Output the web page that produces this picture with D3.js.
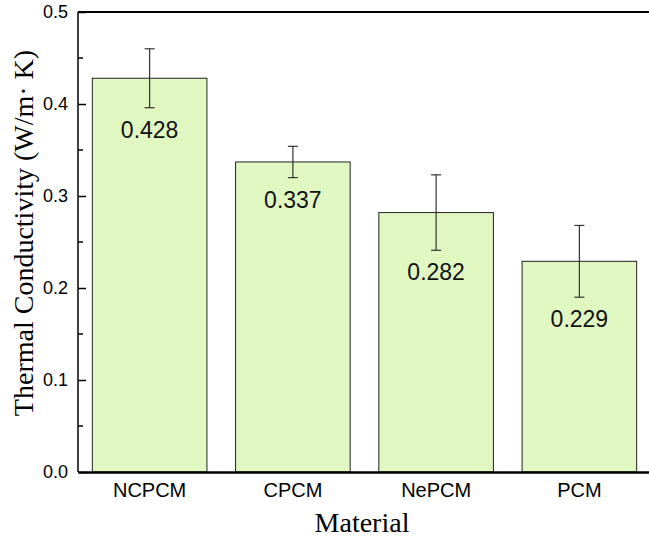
<!DOCTYPE html>
<html>
<head>
<meta charset="utf-8">
<script src="https://cdn.jsdelivr.net/npm/d3@7"></script>
<style>
  body { margin: 0; background: #fff; }
  svg { display: block; }
</style>
</head>
<body>
<svg width="649" height="545"></svg>
<script>
const categories = ['NCPCM', 'CPCM', 'NePCM', 'PCM'];
const values = [0.428, 0.337, 0.282, 0.229];
const errors = [0.032, 0.017, 0.041, 0.039];
const yTicks = [0, 0.1, 0.2, 0.3, 0.4, 0.5];
const yMinor = [0.05, 0.15, 0.25, 0.35, 0.45];

const data = categories.map((c, i) => ({ name: c, value: values[i], err: errors[i] }));

const svg = d3.select('svg');
const m = { left: 78, right: 651, top: 12, bottom: 472 };

const x = d3.scaleBand()
  .domain(categories)
  .range([m.left, m.right])
  .paddingInner(0.2)
  .paddingOuter(0.1);

const y = d3.scaleLinear()
  .domain([0, 0.5])
  .range([m.bottom, m.top]);

// bars
svg.append('g')
  .selectAll('rect')
  .data(data)
  .join('rect')
    .attr('x', d => x(d.name))
    .attr('y', d => y(d.value))
    .attr('width', x.bandwidth())
    .attr('height', d => y(0) - y(d.value))
    .attr('fill', '#e0f7c2')
    .attr('stroke', '#222')
    .attr('stroke-width', 1);

// error bars
const eb = svg.append('g')
  .attr('stroke', '#333')
  .attr('stroke-width', 1.2);

data.forEach(d => {
  const cx = x(d.name) + x.bandwidth() / 2;
  eb.append('line')
    .attr('x1', cx).attr('x2', cx)
    .attr('y1', y(d.value + d.err)).attr('y2', y(d.value - d.err));
  [d.value + d.err, d.value - d.err].forEach(v => {
    eb.append('line')
      .attr('x1', cx - 5).attr('x2', cx + 5)
      .attr('y1', y(v)).attr('y2', y(v));
  });
});

// value labels
svg.append('g')
  .selectAll('text')
  .data(data)
  .join('text')
    .attr('x', d => x(d.name) + x.bandwidth() / 2)
    .attr('y', d => y(d.value - d.err) + 30)
    .attr('text-anchor', 'middle')
    .attr('font-family', 'Arial, "Liberation Sans", sans-serif')
    .attr('font-size', 23)
    .attr('fill', '#111')
    .text(d => d.value.toFixed(3));

// y axis (ticks pointing inward)
const yAxis = svg.append('g')
  .attr('transform', `translate(${m.left},0)`)
  .call(d3.axisLeft(y).tickValues(yTicks).tickFormat(d3.format('.1f')).tickSize(-8).tickPadding(10))
  .call(g => g.select('.domain').remove());
yAxis.selectAll('.tick line').attr('stroke', '#000').attr('stroke-width', 1.5);
yAxis.selectAll('.tick text')
  .attr('font-family', 'Arial, "Liberation Sans", sans-serif')
  .attr('font-size', 18)
  .attr('fill', '#000');

svg.append('g')
  .selectAll('line')
  .data(yMinor)
  .join('line')
    .attr('x1', m.left).attr('x2', m.left + 5)
    .attr('y1', d => y(d)).attr('y2', d => y(d))
    .attr('stroke', '#000')
    .attr('stroke-width', 1.5);

svg.append('line')
  .attr('x1', m.left).attr('x2', m.left)
  .attr('y1', m.top).attr('y2', m.bottom)
  .attr('stroke', '#000').attr('stroke-width', 1.5);

// top frame line
svg.append('line')
  .attr('x1', m.left).attr('x2', m.right)
  .attr('y1', m.top).attr('y2', m.top)
  .attr('stroke', '#000').attr('stroke-width', 2);

// x axis
const xAxis = svg.append('g')
  .attr('transform', `translate(0,${m.bottom})`)
  .call(d3.axisBottom(x).tickSize(0).tickPadding(11));
xAxis.select('.domain').attr('stroke', '#000').attr('stroke-width', 2.5);
xAxis.selectAll('.tick text')
  .attr('font-family', 'Arial, "Liberation Sans", sans-serif')
  .attr('font-size', 20)
  .attr('fill', '#000');

// axis titles
svg.append('text')
  .attr('x', 362)
  .attr('y', 532)
  .attr('text-anchor', 'middle')
  .attr('font-family', '"Times New Roman", "Liberation Serif", serif')
  .attr('font-size', 28)
  .text('Material');

svg.append('text')
  .attr('transform', 'translate(33,233) rotate(-90)')
  .attr('text-anchor', 'middle')
  .attr('font-family', '"Times New Roman", "Liberation Serif", serif')
  .attr('font-size', 28)
  .text('Thermal Conductivity (W/m\u00b7 K)');
</script>
</body>
</html>
